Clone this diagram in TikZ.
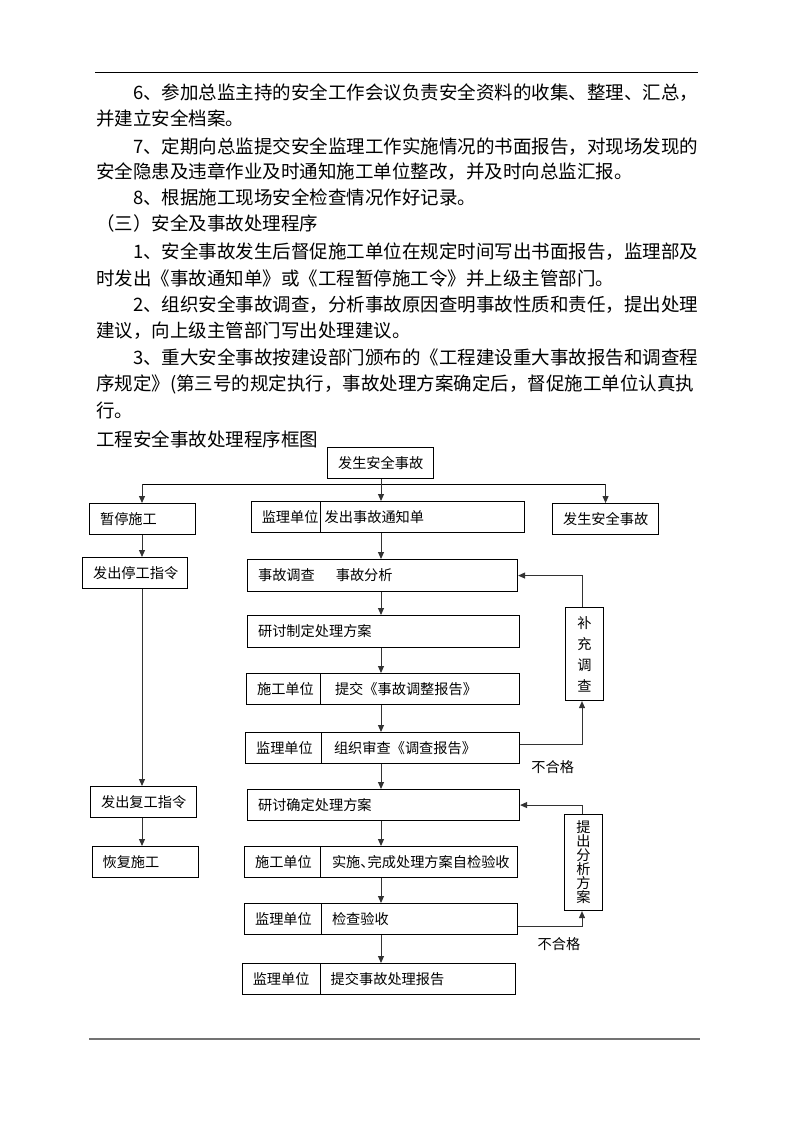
\documentclass[tikz,border=0pt]{standalone}
\usepackage{fontspec}
\setmainfont{Noto Sans CJK SC}
\usetikzlibrary{arrows.meta}
\newcommand{\txtfont}{\fontsize{18.5pt}{22pt}\selectfont}
\newcommand{\boxfont}{\fontsize{14.2pt}{17pt}\selectfont}
\newcommand{\role}[2][78pt]{\makebox[#1][l]{#2}}
\tikzset{
  txt/.style={anchor=west, inner sep=0pt, font=\txtfont, text height=16.3pt, text depth=2.3pt},
  box/.style={draw, line width=1.1pt, anchor=north west, minimum height=31pt, inner xsep=10.5pt, inner ysep=0pt,
    align=left, font=\boxfont, text height=12.5pt, text depth=1.7pt},
  vbox/.style={draw, line width=1.1pt, anchor=north west, minimum width=38pt, inner sep=0pt, align=center},
  arr/.style={-{Triangle[length=7pt,width=6pt]}, line width=1pt, black!80},
  lbl/.style={inner sep=0pt, font=\boxfont}
}
\begin{document}
\begin{tikzpicture}[x=1pt,y=-1pt]
\useasboundingbox (0,0) rectangle (793,1122);
%\draw[help lines,gray] (0,0) grid[step=50] (793,1122);
\draw[line width=1pt] (95,72.7) -- (698,72.7);
\draw[line width=1.5pt,black!55] (89,1039) -- (700,1039);
% text
\node[txt] (p1) at (133,92.3) {6、参加总监主持的安全工作会议负责安全资料的收集、整理、汇总，};
\node[txt] (p2) at (96,118) {并建立安全档案。};
\node[txt] (p3) at (133,146) {7、定期向总监提交安全监理工作实施情况的书面报告，对现场发现的};
\node[txt] (p4) at (96,171) {安全隐患及违章作业及时通知施工单位整改，并及时向总监汇报。};
\node[txt] (p5) at (133,197) {8、根据施工现场安全检查情况作好记录。};
\node[txt] (p6) at (96,223) {（三）安全及事故处理程序};
\node[txt] (p7) at (133,251) {1、安全事故发生后督促施工单位在规定时间写出书面报告，监理部及};
\node[txt] (p8) at (96,278) {时发出《事故通知单》或《工程暂停施工令》并上级主管部门。};
\node[txt] (p9) at (133,304) {2、组织安全事故调查，分析事故原因查明事故性质和责任，提出处理};
\node[txt] (p10) at (96,330) {建议，向上级主管部门写出处理建议。};
\node[txt] (p11) at (133,357) {3、重大安全事故按建设部门颁布的《工程建设重大事故报告和调查程};
\node[txt] (p12) at (96,383) {序规定》(第三号的规定执行，事故处理方案确定后，督促施工单位认真执};
\node[txt] (p13) at (96,410) {行。};
\node[txt] (title) at (96,439) {工程安全事故处理程序框图};
% chart
\node[box, text width=85pt] (top) at (327,447) {发生安全事故};
\node[box, text width=85pt] (stop) at (89,503) {暂停施工};
\node[box, text width=84pt] (halt) at (82,557) {发出停工指令};
\node[box, text width=85pt] (reorder) at (90,786) {发出复工指令};
\node[box, text width=85pt] (restart) at (91.5,846) {恢复施工};
\node[box, text width=85pt] (acc2) at (552,503) {发生安全事故};
\node[box, text width=252pt] (notice) at (250.7,501) {\role[63pt]{监理单位}发出事故通知单};
\node[box, text width=249pt, minimum height=32pt] (survey) at (247,559) {事故调查\hspace{21pt}事故分析};
\node[box, text width=251pt, minimum height=32pt] (plan1) at (247,615) {研讨制定处理方案};
\node[box, text width=252pt] (submit) at (246,673) {\role{施工单位}提交《事故调整报告》};
\node[box, text width=253pt] (review) at (245,732) {\role{监理单位}组织审查《调查报告》};
\node[box, text width=251pt] (plan2) at (247,789) {研讨确定处理方案};
\node[box, text width=251.5pt] (exec) at (244,846) {\role[77pt]{施工单位}实施、\kern-7pt完成处理方案自检验收};
\node[box, text width=251.5pt] (check) at (244,903) {\role[77pt]{监理单位}检查验收};
\node[box, text width=252pt] (final) at (241.7,963) {\role{监理单位}提交事故处理报告};
\node[vbox, minimum height=93pt, font=\fontsize{14.2pt}{21pt}\selectfont] (supp) at (565,607) {补\\充\\调\\查};
\node[vbox, minimum height=96pt, font=\fontsize{14.2pt}{14pt}\selectfont] (ana) at (564,814) {提\\出\\分\\析\\方\\案};
\node[lbl] (ng1) at (552.7,766.7) {不合格};
\node[lbl] (ng2) at (559,944) {不合格};
\foreach \n/\d in {notice/70,submit/74.7,review/76.7,exec/76.6,check/77.8,final/79}
  \draw[line width=1.1pt] ([xshift=\d pt]\n.north west) -- ([xshift=\d pt]\n.south west);
% connectors
\coordinate (axis) at (381,0);
\coordinate (laxis) at (142,0);
\coordinate (raxis) at (582,0);
\coordinate (fork) at (381,484);
\draw[line width=1pt] (fork -| laxis) -- (fork -| acc2.north);
\draw[arr] (fork -| laxis) -- (stop.north -| laxis);
\draw[arr] (fork -| acc2.north) -- (acc2.north);
\draw[arr] (top.south -| axis) -- (notice.north -| axis);
\draw[arr] (stop.south -| laxis) -- (halt.north -| laxis);
\draw[arr] (halt.south -| laxis) -- (reorder.north -| laxis);
\draw[arr] (reorder.south -| laxis) -- (restart.north -| laxis);
\draw[arr] (notice.south -| axis) -- (survey.north -| axis);
\draw[arr] (survey.south -| axis) -- (plan1.north -| axis);
\draw[arr] (plan1.south -| axis) -- (submit.north -| axis);
\draw[arr] (submit.south -| axis) -- (review.north -| axis);
\draw[arr] (review.south -| axis) -- (plan2.north -| axis);
\draw[arr] (plan2.south -| axis) -- (exec.north -| axis);
\draw[arr] (exec.south -| axis) -- (check.north -| axis);
\draw[arr] (check.south -| axis) -- (final.north -| axis);
\draw[arr] ([yshift=3.5pt]review.east) -| (supp.south -| raxis);
\draw[arr] (supp.north -| raxis) |- (survey.east);
\draw[arr] ([yshift=-7.5pt]check.east) -| (ana.south -| raxis);
\draw[arr] (ana.north -| raxis) |- (plan2.east);
\end{tikzpicture}
\end{document}
